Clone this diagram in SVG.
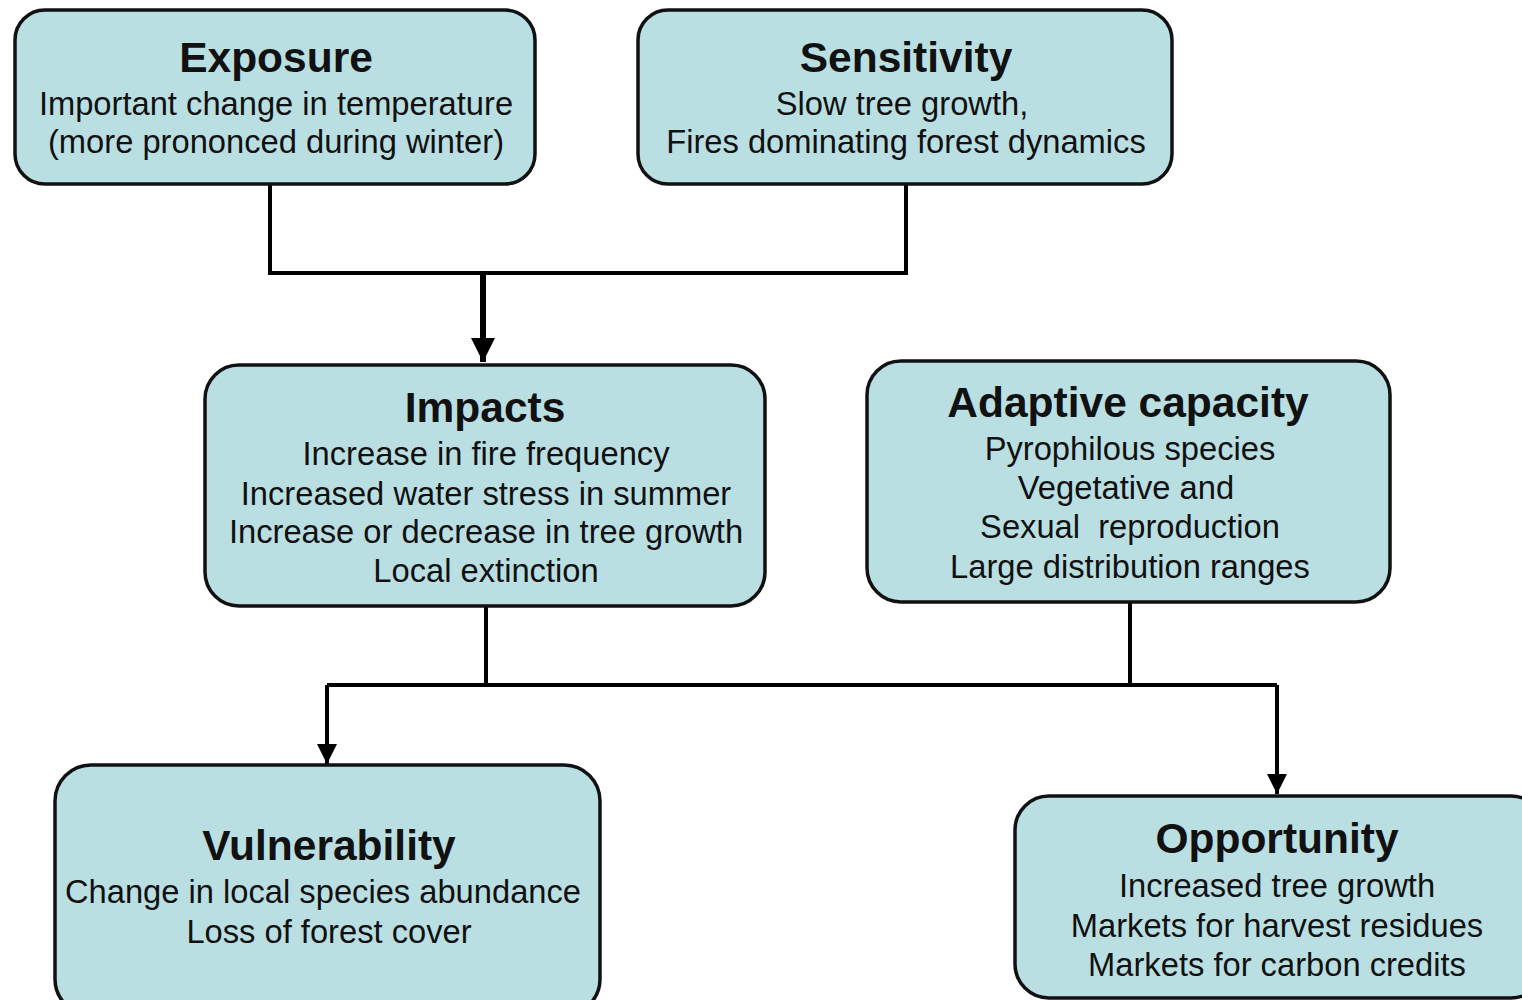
<svg xmlns="http://www.w3.org/2000/svg" width="1522" height="1000" viewBox="0 0 1522 1000">
<defs>
<style>
.box{fill:#badfe3;stroke:#111;stroke-width:3.5}
.t{font-family:"Liberation Sans",Arial,sans-serif;font-weight:bold;font-size:42.5px;fill:#111;text-anchor:middle}
.b{font-family:"Liberation Sans",Arial,sans-serif;font-size:32.7px;fill:#111;text-anchor:middle}
.c{fill:none;stroke:#000;stroke-width:4}
</style>
<marker id="ah" viewBox="0 0 10 10" refX="10" refY="5" markerWidth="5" markerHeight="5" markerUnits="strokeWidth" orient="auto">
<path d="M0,0 L10,5 L0,10 z" fill="#000"/>
</marker>
<marker id="ah2" viewBox="0 0 10 10" refX="10" refY="5" markerWidth="4" markerHeight="4.5" markerUnits="strokeWidth" orient="auto">
<path d="M0,0 L10,5 L0,10 z" fill="#000"/>
</marker>
</defs>
<rect width="1522" height="1000" fill="#fff"/>
<g id="connectors">
<path class="c" d="M270,184 V273 H906 V184"/>
<path class="c" style="stroke-width:6" d="M483,273 V362" marker-end="url(#ah2)"/>
<path class="c" d="M486,606 V685"/>
<path class="c" d="M1130,602 V685"/>
<path class="c" d="M327,685 H1277"/>
<path class="c" d="M327,685 V764" marker-end="url(#ah)"/>
<path class="c" d="M1277,685 V794" marker-end="url(#ah)"/>
</g>
<g id="exposure">
<rect class="box" x="15" y="10" width="520" height="174" rx="30"/>
<text class="t" x="276" y="72">Exposure</text>
<text class="b" x="276" y="115">Important change in temperature</text>
<text class="b" x="276" y="153">(more prononced during winter)</text>
</g>
<g id="sensitivity">
<rect class="box" x="638" y="10" width="534" height="174" rx="30"/>
<text class="t" x="906" y="72">Sensitivity</text>
<text class="b" x="902" y="115">Slow tree growth,</text>
<text class="b" x="906" y="153">Fires dominating forest dynamics</text>
</g>
<g id="impacts">
<rect class="box" x="205" y="365" width="560" height="241" rx="34"/>
<text class="t" x="485" y="422">Impacts</text>
<text class="b" x="486" y="465">Increase in fire frequency</text>
<text class="b" x="486" y="505">Increased water stress in summer</text>
<text class="b" x="486" y="543">Increase or decrease in tree growth</text>
<text class="b" x="486" y="582">Local extinction</text>
</g>
<g id="adaptive">
<rect class="box" x="867" y="361" width="523" height="241" rx="34"/>
<text class="t" x="1128" y="417">Adaptive capacity</text>
<text class="b" x="1130" y="460">Pyrophilous species</text>
<text class="b" x="1126" y="499">Vegetative and</text>
<text class="b" x="1130" y="538" xml:space="preserve">Sexual  reproduction</text>
<text class="b" x="1130" y="578">Large distribution ranges</text>
</g>
<g id="vulnerability">
<rect class="box" x="55" y="765" width="545" height="250" rx="36"/>
<text class="t" x="329" y="860">Vulnerability</text>
<text class="b" x="323" y="903">Change in local species abundance</text>
<text class="b" x="329" y="943">Loss of forest cover</text>
</g>
<g id="opportunity">
<rect class="box" x="1015" y="796" width="530" height="202" rx="34"/>
<text class="t" x="1277" y="853">Opportunity</text>
<text class="b" x="1277" y="897">Increased tree growth</text>
<text class="b" x="1277" y="937">Markets for harvest residues</text>
<text class="b" x="1277" y="976">Markets for carbon credits</text>
</g>
</svg>
